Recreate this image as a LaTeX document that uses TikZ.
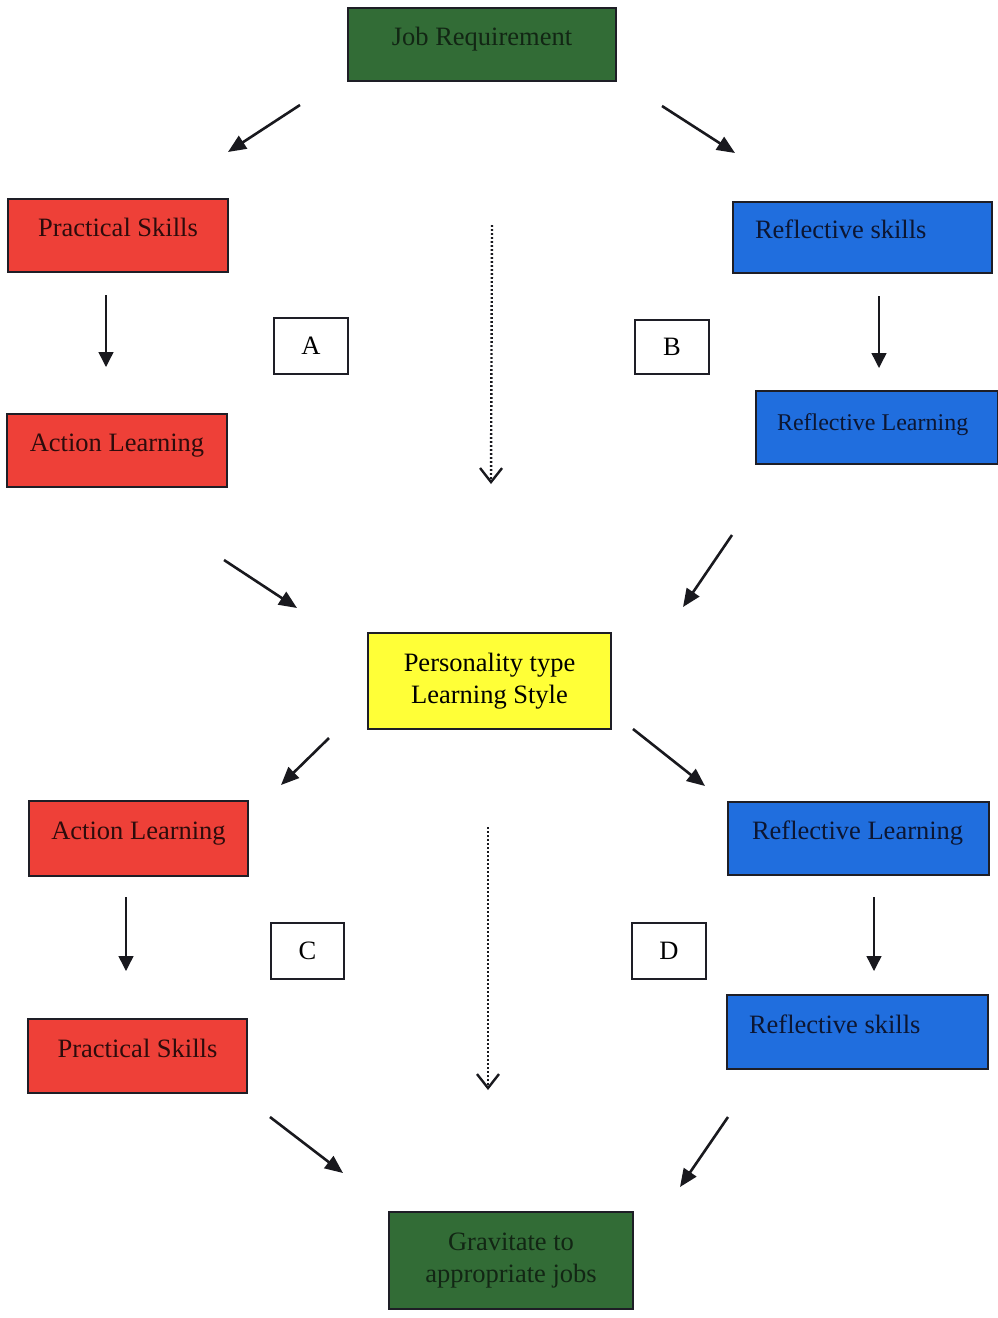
\documentclass[tikz,border=0pt]{standalone}
\usepackage{fontspec}
\setmainfont{Liberation Serif}
\usetikzlibrary{arrows.meta}
\definecolor{boxgreen}{RGB}{50,108,54}
\definecolor{boxred}{RGB}{238,64,56}
\definecolor{boxblue}{RGB}{32,110,222}
\definecolor{boxyellow}{RGB}{255,255,55}
\definecolor{boxline}{RGB}{30,30,38}
\definecolor{txtgreen}{RGB}{18,38,20}
\definecolor{txtred}{RGB}{45,12,12}
\definecolor{txtblue}{RGB}{12,22,50}
\definecolor{arrowc}{RGB}{25,25,30}
\newcommand\lefttxt[2]{\hbox to #1{#2\hss}}
\begin{document}
\begin{tikzpicture}[x=0.5pt,y=-0.5pt,
  box/.style={draw=boxline, line width=1pt, rectangle, inner sep=0pt,
    font=\fontsize{13.25pt}{16pt}\selectfont},
  oneline/.style={text height=8.5pt, text depth=7.5pt},
  greenbox/.style={box, fill=boxgreen, text=txtgreen},
  redbox/.style={box, oneline, fill=boxred, text=txtred},
  bluebox/.style={box, oneline, fill=boxblue, text=txtblue},
  yellowbox/.style={box, fill=boxyellow, text=black},
  twoline/.style={align=center},
  letterbox/.style={draw=boxline, line width=1pt, fill=white, rectangle, inner sep=0pt,
    font=\fontsize{13.25pt}{16pt}\selectfont, text=black},
  darr/.style={draw=arrowc, line width=1.3pt, -{Triangle[length=9pt,width=7.5pt]}},
  varr/.style={draw=arrowc, line width=0.7pt, -{Triangle[length=7.5pt,width=7.5pt]}},
  dotarr/.style={draw=arrowc, line width=1.2pt, dash pattern=on 0.9pt off 1.1pt,
    -{Straight Barb[length=7pt,width=11pt,line width=1.2pt]}}
]
\useasboundingbox (0,0) rectangle (997,1318);

% boxes
\node[greenbox, oneline, minimum width=134pt, minimum height=36.5pt] (job) at (482,44.5) {Job Requirement};
\node[redbox, minimum width=110pt, minimum height=36.5pt] (ps1) at (118,235.5) {Practical Skills};
\node[redbox, minimum width=110pt, minimum height=36.5pt] (al1) at (117,450.5) {Action Learning};
\node[letterbox, minimum width=37pt, minimum height=28pt] (A) at (311,346) {A};
\node[letterbox, minimum width=37pt, minimum height=27pt] (B) at (672,347) {B};
\node[bluebox, minimum width=129.5pt, minimum height=35.5pt, inner xsep=11pt] (rs1) at (862.5,237.5) {\lefttxt{107.5pt}{Reflective skills}};
\node[bluebox, minimum width=121pt, minimum height=36.5pt, inner xsep=10.5pt,
  font=\fontsize{12pt}{15pt}\selectfont, text height=9pt, text depth=6pt] (rl1) at (877,427.5) {\lefttxt{100pt}{Reflective Learning}};
\node[yellowbox, twoline, minimum width=121.5pt, minimum height=48pt] (pers) at (489.5,681) {Personality type\\Learning Style};
\node[redbox, minimum width=109.5pt, minimum height=37.5pt] (al2) at (138.5,838.5) {Action Learning};
\node[redbox, minimum width=109.5pt, minimum height=37pt] (ps2) at (137.5,1056) {Practical Skills};
\node[letterbox, minimum width=36.5pt, minimum height=28pt] (C) at (307.5,951) {C};
\node[letterbox, minimum width=37pt, minimum height=28pt] (D) at (669,951) {D};
\node[bluebox, minimum width=130.5pt, minimum height=36.5pt, inner xsep=12pt] (rl2) at (858.5,838.5) {\lefttxt{106.5pt}{Reflective Learning}};
\node[bluebox, minimum width=130.5pt, minimum height=37pt, inner xsep=11pt] (rs2) at (857.5,1032) {\lefttxt{108.5pt}{Reflective skills}};
\node[greenbox, twoline, minimum width=122pt, minimum height=48.5pt] (grav) at (511,1260.5) {Gravitate to\\appropriate jobs};

% connector end points
\coordinate (j1s) at (300,105);  \coordinate (j1e) at (228,152);
\coordinate (j2s) at (662,106);  \coordinate (j2e) at (735,153);
\coordinate (v1s) at (106,295);  \coordinate (v1e) at (106,367);
\coordinate (v2s) at (879,296);  \coordinate (v2e) at (879,368);
\coordinate (d1s) at (492,225);  \coordinate (d1e) at (491,484);
\coordinate (p1s) at (224,560);  \coordinate (p1e) at (297,608);
\coordinate (p2s) at (732,535);  \coordinate (p2e) at (683,607);
\coordinate (q1s) at (329,738);  \coordinate (q1e) at (281,785);
\coordinate (q2s) at (633,729);  \coordinate (q2e) at (705,786);
\coordinate (v3s) at (126,897);  \coordinate (v3e) at (126,971);
\coordinate (v4s) at (874,897);  \coordinate (v4e) at (874,971);
\coordinate (d2s) at (488,827);  \coordinate (d2e) at (488,1090);
\coordinate (g1s) at (270,1117); \coordinate (g1e) at (343,1173);
\coordinate (g2s) at (728,1117); \coordinate (g2e) at (680,1187);

% connectors
\draw[darr] (j1s) -- (j1e);
\draw[darr] (j2s) -- (j2e);
\draw[varr] (v1s) -- (v1e);
\draw[varr] (v2s) -- (v2e);
\draw[dotarr] (d1s) -- (d1e);
\draw[darr] (p1s) -- (p1e);
\draw[darr] (p2s) -- (p2e);
\draw[darr] (q1s) -- (q1e);
\draw[darr] (q2s) -- (q2e);
\draw[varr] (v3s) -- (v3e);
\draw[varr] (v4s) -- (v4e);
\draw[dotarr] (d2s) -- (d2e);
\draw[darr] (g1s) -- (g1e);
\draw[darr] (g2s) -- (g2e);
\end{tikzpicture}
\end{document}
